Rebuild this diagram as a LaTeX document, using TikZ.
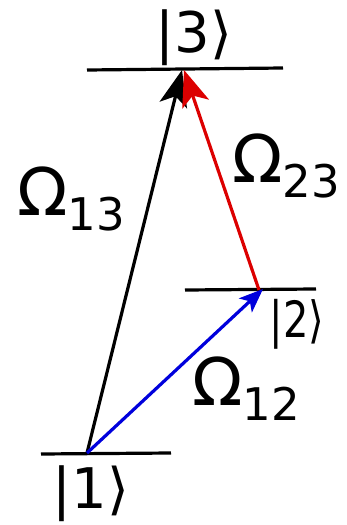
\documentclass[tikz,border=0pt]{standalone}
\usepackage{fontspec}
\setmainfont{DejaVu Sans}
\usetikzlibrary{arrows.meta}
\definecolor{myblue}{RGB}{0,0,220}
\definecolor{myred}{RGB}{220,0,0}
\newcommand{\omlab}[1]{{\fontsize{66}{66}\selectfont Ω}{\fontsize{45}{45}\selectfont\raisebox{-15pt}{#1}}}
\begin{document}
\begin{tikzpicture}[x=1pt,y=-1pt,
  level/.style={line width=3.2pt},
  trans/.style={line width=3.2pt},
  bighead/.style={-{Stealth[length=36pt,width=28pt,inset=9pt]}},
  smallhead/.style={-{Stealth[length=24pt,width=19pt,inset=6pt]}},
  ket/.style={inner sep=0pt,anchor=base},
  omega/.style={inner sep=0pt,anchor=base west}]
\useasboundingbox (0,0) rectangle (347,525);
% levels
\coordinate (l3a) at (87,70);   \coordinate (l3b) at (283,68);
\coordinate (l2a) at (185,290); \coordinate (l2b) at (316,289);
\coordinate (l1a) at (41,454);  \coordinate (l1b) at (171,453);
\draw[level] (l3a) -- (l3b);
\draw[level] (l2a) -- (l2b);
\draw[level] (l1a) -- (l1b);
% transition points
\coordinate (p1) at (87,453);
\coordinate (p2) at (259,290);
\coordinate (p2t) at (263,289);
\coordinate (p3b) at (182,70);
\coordinate (p3r) at (184,70);
\draw[trans,bighead,black] (p1) -- (p3b);
\draw[trans,bighead,myred] (p2) -- (p3r);
\draw[trans,smallhead,myblue] (p1) -- (p2t);
% labels
\node[ket] (k3) at (194,52) {\fontsize{56}{56}\selectfont |3⟩};
\node[ket,xscale=0.8] (k2) at (297,337) {\fontsize{50}{50}\selectfont |2⟩};
\node[ket] (k1) at (91,508) {\fontsize{56}{56}\selectfont |1⟩};
\node[omega] (o13) at (17,215) {\omlab{13}};
\node[omega] (o23) at (232,182) {\omlab{23}};
\node[omega] (o12) at (192,405) {\omlab{12}};
\end{tikzpicture}
\end{document}
